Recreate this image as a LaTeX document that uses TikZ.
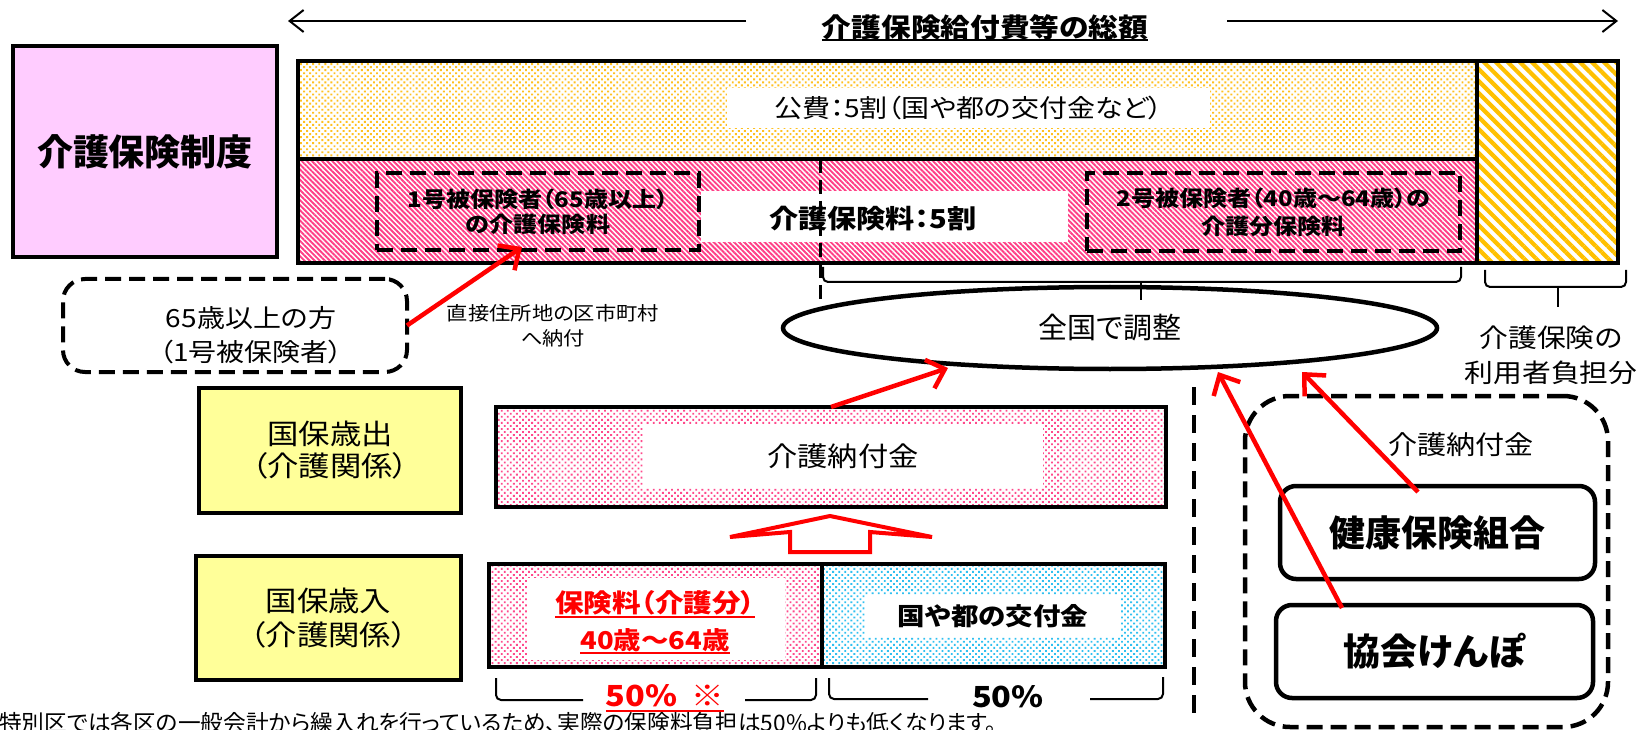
\documentclass[tikz,border=0pt]{standalone}
\usepackage{fontspec}
\setmainfont{Noto Sans CJK JP}[RawFeature=+palt]
\newfontfamily\wide{Noto Sans CJK JP}[RawFeature=+palt,FakeStretch=1.12]
\usetikzlibrary{patterns.meta,arrows.meta,shapes.geometric,calc}
\definecolor{lilac}{HTML}{FFCCFF}
\definecolor{lemon}{HTML}{FFFF99}
\definecolor{stripepink}{HTML}{FF3F86}
\definecolor{dotpink}{HTML}{FF4A8C}
\definecolor{dotyellow}{HTML}{FFC020}
\definecolor{dotblue}{HTML}{30C0F0}
\definecolor{stripeorange}{HTML}{FFC000}
\newcommand{\jfs}[2]{\fontsize{#1}{#2}\selectfont}
\begin{document}
\begin{tikzpicture}[x=1pt,y=-1pt,
  every node/.style={inner sep=0pt,outer sep=0pt,align=center},
  heavy/.style={draw,line width=4.5pt},
  dashbox/.style={draw,line width=4pt,dash pattern=on 16pt off 8pt},
  redarrow/.style={draw=red,line width=4.5pt,-{Straight Barb[length=16pt,width=30pt]}},
  brk/.style={draw,line width=2pt,rounded corners=5pt},
  ydots/.style={pattern={Dots[angle=45,distance=4.3pt,radius=1.35pt]},pattern color=dotyellow},
  pdots/.style={pattern={Dots[angle=45,distance=4.3pt,radius=1.3pt]},pattern color=dotpink},
  bdots/.style={pattern={Dots[angle=45,distance=4.3pt,radius=1.3pt]},pattern color=dotblue},
  pstripes/.style={pattern={Lines[angle=-45,distance=3.6pt,line width=1.9pt]},pattern color=stripepink},
  ostripes/.style={pattern={Lines[angle=-45,distance=8.5pt,line width=4.2pt]},pattern color=stripeorange},
]
\useasboundingbox (0,0) rectangle (1642,730);

% title with arrows
\node[font=\wide\bfseries\jfs{26.5}{32}] (title) at (985,27) {介護保険給付費等の総額};
\draw[line width=2pt] ([yshift=-3pt]title.base west) -- ([yshift=-3pt]title.base east);
\coordinate (arrL1) at (746,21); \coordinate (arrL2) at (288,21);
\coordinate (arrR1) at (1227,21); \coordinate (arrR2) at (1618,21);
\draw[line width=2pt,-{Straight Barb[length=14pt,width=22pt]}] (arrL1) -- (arrL2);
\draw[line width=2pt,-{Straight Barb[length=14pt,width=22pt]}] (arrR1) -- (arrR2);

% system box
\node[draw,line width=3.5pt,fill=lilac,minimum width=264pt,minimum height=211pt,font=\bfseries\jfs{36}{40}] (seido) at (145,151.5) {介護保険制度};

% main bar
\node[heavy,ydots,minimum width=1179pt,minimum height=98pt] (kohi) at (887.5,110) {};
\node[fill=white,minimum width=483pt,minimum height=40pt,font=\wide\jfs{25}{30}] (kohilabel) at (968.5,108) {公費：5割（国や都の交付金など）};
\node[heavy,pstripes,minimum width=1179pt,minimum height=104pt] (hoken) at (887.5,211) {};
\node[fill=white,minimum width=367pt,minimum height=51pt] (hokenlabel) at (884.5,216.5) {};
\node[font=\wide\bfseries\jfs{26}{30}] (hokentext) at (873,219) {介護保険料：5割};
\node[dashbox,minimum width=322pt,minimum height=77pt,font=\wide\bfseries\jfs{21.5}{25}] (ichigo) at (538,211.5) {1号被保険者（65歳以上）\\の介護保険料};
\node[dashbox,minimum width=373pt,minimum height=78pt,font=\wide\bfseries\jfs{21.5}{28}] (nigo) at (1273.5,212) {2号被保険者（40歳～64歳）の\\介護分保険料};
\coordinate (vd1) at (820,159); \coordinate (vd2) at (820,300);
\draw[line width=3pt,dash pattern=on 14pt off 7pt] (vd1) -- (vd2);
\node[heavy,ostripes,minimum width=141pt,minimum height=202pt] (riyou) at (1547.5,162) {};

% ellipse and braces
\node[ellipse,draw,line width=4.5pt,fill=white,minimum width=654pt,minimum height=82pt,font=\jfs{29}{32}] (zenkoku) at (1110,328) {全国で調整};
\draw[brk] (823,267) -- (823,282) -- (1461,282) -- (1461,267);
\draw[line width=2pt] (1141,282) -- (1141,300);
\draw[brk] (1485,270) -- (1485,287) -- (1626,287) -- (1626,270);
\draw[line width=2pt] (1558,287) -- (1558,307);
\node[font=\wide\jfs{25.7}{35}] (riyoutext) at (1551,355) {介護保険の\\利用者負担分};

% 65+
\node[dashbox,rounded corners=22pt,minimum width=344pt,minimum height=93pt] (over65) at (235,325.5) {};
\node[font=\wide\jfs{25}{34}] (over65text) at (251,335) {65歳以上の方\\（1号被保険者）};
\node[font=\wide\jfs{19}{25}] (chokusetsu) at (553,326) {直接住所地の区市町村\\へ納付};

% yellow boxes
\node[draw,line width=3.5pt,fill=lemon,minimum width=262pt,minimum height=125pt,font=\wide\jfs{28}{32}] (saishutsu) at (330,450.5) {国保歳出\\（介護関係）};
\node[draw,line width=3.5pt,fill=lemon,minimum width=265pt,minimum height=124pt,font=\wide\jfs{28}{34}] (sainyu) at (328.5,618) {国保歳入\\（介護関係）};

% nofukin
\node[heavy,pdots,minimum width=670pt,minimum height=100pt] (nofukin) at (831,457) {};
\node[fill=white,minimum width=400pt,minimum height=63pt,font=\wide\jfs{27}{30}] (nofukinlabel) at (843,456.5) {介護納付金};

% hollow up arrow
\draw[red,line width=4pt,fill=white,line join=miter] (830,516) -- (932,537) -- (870,532) -- (870,552) -- (790,552) -- (790,532) -- (730,537) -- cycle;

% lower boxes
\node[heavy,pdots,minimum width=333pt,minimum height=103pt] (kaigobun) at (655.5,615.5) {};
\node[fill=white,minimum width=258pt,minimum height=82pt] (kaigobunlabel) at (656,619) {};
\node[font=\wide\bfseries\jfs{25.5}{30},text=red] (kb1) at (655,603) {保険料（介護分）};
\node[font=\wide\bfseries\jfs{24.5}{30},text=red] (kb2) at (655,640) {40歳～64歳};
\draw[red,line width=2pt] ([yshift=-4pt]kb1.base west) -- ([yshift=-4pt]kb1.base east);
\draw[red,line width=2pt] ([yshift=-4pt]kb2.base west) -- ([yshift=-4pt]kb2.base east);
\node[heavy,bdots,minimum width=343pt,minimum height=103pt] (koufu) at (993.5,615.5) {};
\node[fill=white,minimum width=256pt,minimum height=42pt,font=\wide\bfseries\jfs{24.5}{30}] (koufulabel) at (993,616) {国や都の交付金};

% bottom brackets
\draw[brk] (496,678) -- (496,700) -- (583,700);
\draw[brk] (745,700) -- (816,700) -- (816,678);
\node[font=\wide\bfseries\jfs{29}{32},text=red] (half1) at (665,696) {50\%\hspace{14pt}※};
\draw[red,line width=2pt] ([yshift=-4pt]half1.base west) -- ([yshift=-4pt]half1.base east);
\draw[brk] (829,678) -- (829,699) -- (928,699);
\draw[brk] (1090,699) -- (1163,699) -- (1163,677);
\node[font=\wide\bfseries\jfs{29}{32}] (half2) at (1008,697) {50\%};

% note
\node[anchor=base west,font=\jfs{22.7}{23}] (note) at (-1,731) {特別区では各区の一般会計から繰入れを行っているため、実際の保険料負担は50\%よりも低くなります。};

% right group
\coordinate (vr1) at (1194,387); \coordinate (vr2) at (1194,722);
\draw[line width=4pt,dash pattern=on 18pt off 10pt] (vr1) -- (vr2);
\node[dashbox,line width=4.5pt,rounded corners=45pt,minimum width=363pt,minimum height=331pt] (nofugroup) at (1426.5,561.5) {};
\node[font=\wide\jfs{26}{30}] (nofugrouptext) at (1461,445) {介護納付金};
\node[heavy,rounded corners=16pt,fill=white,minimum width=315pt,minimum height=93pt,font=\bfseries\jfs{36}{40}] (kenpo) at (1437.5,532.5) {健康保険組合};
\node[heavy,rounded corners=16pt,fill=white,minimum width=317pt,minimum height=93pt,font=\bfseries\jfs{37}{40}] (kyoukai) at (1434.5,651.5) {協会けんぽ};

% red arrows
\draw[redarrow] (over65.east) -- ($(ichigo.south)+(-16,-3)$);
\draw[redarrow] (nofukin.north) -- ($(zenkoku.center)+(-162,40)$);
\draw[redarrow] ($(kyoukai.north west)+(66,3)$) -- ($(zenkoku.center)+(108,44)$);
\draw[redarrow] ($(kenpo.north west)+(138,6)$) -- ($(zenkoku.center)+(192,44)$);
\end{tikzpicture}
\end{document}
